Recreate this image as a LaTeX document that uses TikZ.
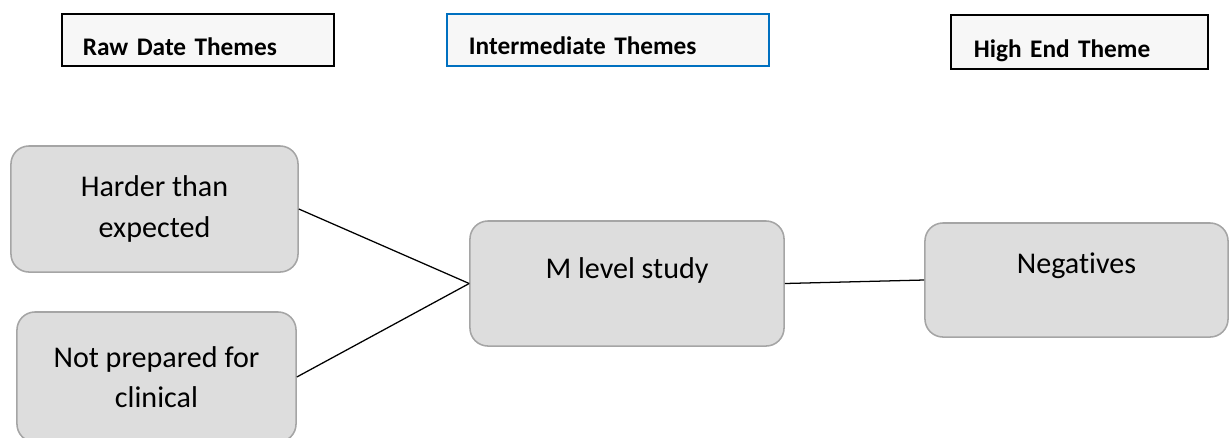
\documentclass[tikz,border=0pt]{standalone}
\usepackage{fontspec}
\setmainfont{Carlito}[Ligatures={NoCommon}]
\usepackage{xcolor}
\definecolor{boxgray}{HTML}{DDDDDD}
\definecolor{edgegray}{HTML}{A5A5A5}
\definecolor{hdrfill}{HTML}{F7F7F7}
\definecolor{hdrblue}{HTML}{0070C0}
\tikzset{
  hdr/.style={draw=black,fill=hdrfill,line width=1.3pt,align=left,font=\fontsize{18}{21}\selectfont\bfseries},
  theme/.style={draw=edgegray,fill=boxgray,line width=1.1pt,rounded corners=0.45cm,align=center,font=\fontsize{21.4}{28.5}\selectfont},
  link/.style={line width=0.9pt}
}

\begin{document}
\begin{tikzpicture}[x=0.025cm,y=-0.025cm]
\useasboundingbox (0,0) rectangle (1230,437);
\node[hdr,inner xsep=0.525cm,inner ysep=0pt,text width=5.75cm,text height=1.025cm,text depth=0.275cm,anchor=base west] (rawhdr) at (61,55){Raw Date Themes};
\node[hdr,draw=hdrblue,inner xsep=0.55cm,inner ysep=0pt,text width=6.95cm,text height=1cm,text depth=0.3cm,anchor=base west] (midhdr) at (446,54){Intermediate Themes};
\node[hdr,inner xsep=0.575cm,inner ysep=0pt,text width=5.275cm,text height=1.05cm,text depth=0.3cm,anchor=base west] (highhdr) at (950,57){High End Theme};

\node[theme,minimum width=7.175cm,minimum height=3.15cm] (harder) at (154.5,209){Harder than\\expected};
\node[theme,minimum width=6.975cm,minimum height=3.25cm] (notprep) at (156.5,377){Not prepared for\\clinical};
\node[theme,minimum width=7.85cm,inner ysep=0pt,text height=1.425cm,text depth=1.7cm,anchor=base] (mlevel) at (627,278){M level study};
\node[theme,minimum width=7.575cm,inner ysep=0pt,text height=1.25cm,text depth=1.6cm,anchor=base] (negatives) at (1076.5,273){Negatives};

\draw[link](harder.east)--(mlevel.west);
\draw[link](notprep.east)--(mlevel.west);
\draw[link](mlevel.east)--(negatives.west);
\end{tikzpicture}
\end{document}
